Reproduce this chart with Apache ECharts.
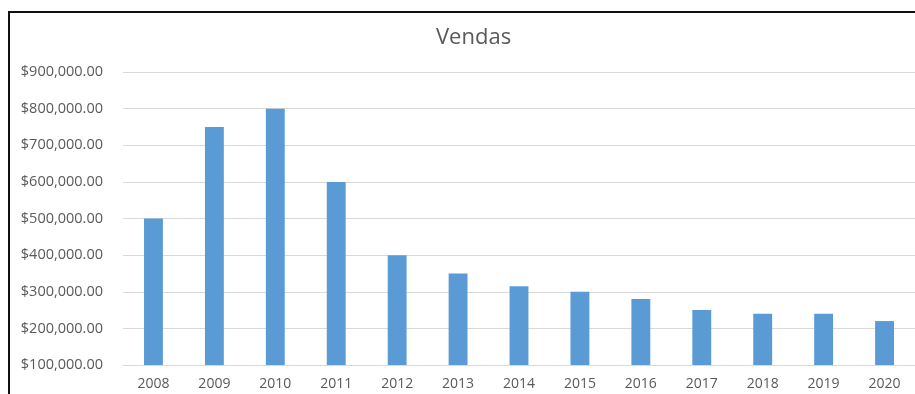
<!DOCTYPE html>
<html>
<head>
<meta charset="utf-8">
<script src="https://cdn.jsdelivr.net/npm/echarts@6/dist/echarts.min.js"></script>
<style>
  html, body { margin: 0; padding: 0; background: #fff; }
  #chart { width: 915px; height: 394px; }
</style>
</head>
<body>
<div id="chart"></div>
<script>
// Annual sales figures
const years = ['2008', '2009', '2010', '2011', '2012', '2013', '2014', '2015', '2016', '2017', '2018', '2019', '2020'];
const sales = [500000, 750000, 800000, 600000, 400000, 350000, 315000, 300000, 280000, 250000, 240000, 240000, 220000];

const textColor = '#595959';
const fontFamily = 'Open Sans, Liberation Sans, sans-serif';

function money(v) {
  return '$' + v.toLocaleString('en-US', { minimumFractionDigits: 2, maximumFractionDigits: 2 });
}

const chart = echarts.init(document.getElementById('chart'), null, { renderer: 'canvas' });
chart.setOption({
  animation: false,
  backgroundColor: '#ffffff',
  title: {
    text: 'Vendas',
    left: 431,
    top: 22,
    textStyle: { color: textColor, fontSize: 22, fontWeight: 'normal', fontFamily: fontFamily }
  },
  grid: { left: 123, top: 72, width: 793, height: 293, containLabel: false },
  xAxis: {
    type: 'category',
    data: years,
    axisLine: { show: true, lineStyle: { color: '#D9D9D9', width: 1 } },
    axisTick: { show: false },
    axisLabel: { color: textColor, fontSize: 14, fontFamily: fontFamily, margin: 12 }
  },
  yAxis: {
    type: 'value',
    min: 100000,
    max: 900000,
    interval: 100000,
    axisLine: { show: false },
    axisTick: { show: false },
    splitLine: { lineStyle: { color: '#D9D9D9', width: 1 } },
    axisLabel: { color: textColor, fontSize: 14.5, fontFamily: fontFamily, margin: 20, formatter: money }
  },
  series: [{
    type: 'bar',
    data: sales,
    barWidth: '31%',
    itemStyle: { color: '#5B9BD5' }
  }],
  graphic: [{
    type: 'rect',
    shape: { x: 9, y: 12, width: 1000, height: 600 },
    style: { fill: 'none', stroke: '#111111', lineWidth: 2 },
    silent: true
  }]
});
</script>
</body>
</html>
